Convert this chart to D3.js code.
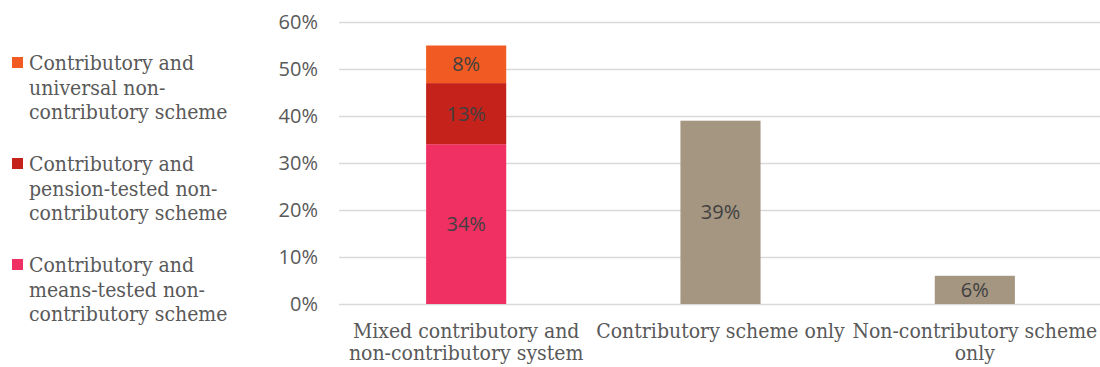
<!DOCTYPE html>
<html><head><meta charset="utf-8">
<script src="https://cdn.jsdelivr.net/npm/d3@7"></script>
<style>body{margin:0;background:#fff;}svg{display:block;}</style>
</head><body>
<svg id="chart" width="1100" height="367"></svg>
<script>
const categories = [["Mixed contributory and","non-contributory system"],["Contributory scheme only"],["Non-contributory scheme","only"]];
const seriesNames = [
  ["Contributory and","means-tested non-","contributory scheme"],
  ["Contributory and","pension-tested non-","contributory scheme"],
  ["Contributory and","universal non-","contributory scheme"]
];
const seriesColors = ["#F03063","#C5221C","#F15A22"];
const meansTested = [34, 0, 0];
const pensionTested = [13, 0, 0];
const universal = [8, 0, 0];
const singleScheme = [0, 39, 6];
const singleColor = "#A59682";
const yTicks = [0,10,20,30,40,50,60];

const svg = d3.select("#chart");
const y = d3.scaleLinear().domain([0,60]).range([304,22]);
const x = d3.scaleBand().domain(d3.range(categories.length)).range([339,1102]).paddingInner(0.685).paddingOuter(0.3425);

const slabFont = "'DejaVu Serif Condensed','DejaVu Serif',serif";
const sansFont = "'Open Sans','Noto Sans',sans-serif";

// gridlines
const yAxis = d3.axisLeft(y).tickValues(yTicks).tickFormat(d=>d+"%").tickSize(-(1102-339)).tickPadding(21);
const gy = svg.append("g").attr("transform","translate(339,0)").call(yAxis);
gy.select(".domain").remove();
gy.selectAll(".tick line").attr("stroke","#d9d9d9").attr("stroke-width",1.3);
gy.selectAll(".tick text").attr("fill","#595959").style("font-family",sansFont).style("font-size","20px");

// stacked
const stackData = categories.map((c,i)=>({i, a:meansTested[i], b:pensionTested[i], c:universal[i]}));
const stack = d3.stack().keys(["a","b","c"])(stackData);
stack.forEach((layer,k)=>{
  layer.forEach(d=>{
    if (d[1]-d[0] <= 0) return;
    svg.append("rect").attr("x",x(d.data.i)).attr("width",x.bandwidth())
      .attr("y",y(d[1])).attr("height",y(d[0])-y(d[1])).attr("fill",seriesColors[k]);
    svg.append("text").attr("x",x(d.data.i)+x.bandwidth()/2).attr("y",(y(d[0])+y(d[1]))/2)
      .attr("dy","0.35em").attr("text-anchor","middle").attr("fill","#404040")
      .style("font-family",sansFont).style("font-size","20px").text((d[1]-d[0])+"%");
  });
});
singleScheme.forEach((v,i)=>{
  if (v<=0) return;
  svg.append("rect").attr("x",x(i)).attr("width",x.bandwidth()).attr("y",y(v)).attr("height",y(0)-y(v)).attr("fill",singleColor);
  svg.append("text").attr("x",x(i)+x.bandwidth()/2).attr("y",(y(0)+y(v))/2)
    .attr("dy","0.35em").attr("text-anchor","middle").attr("fill","#404040")
    .style("font-family",sansFont).style("font-size","20px").text(v+"%");
});

// category labels
categories.forEach((lines,i)=>{
  const t = svg.append("text").attr("x",x(i)+x.bandwidth()/2).attr("y",338).attr("text-anchor","middle")
    .attr("fill","#595959").style("font-family",slabFont).style("font-size","21px");
  lines.forEach((l,j)=>t.append("tspan").attr("x",x(i)+x.bandwidth()/2).attr("dy",j?"22":"0").text(l));
});

// legend (top to bottom: universal, pension, means)
const legendOrder = [2,1,0];
legendOrder.forEach((k,gi)=>{
  const top = 70 + gi*101;
  svg.append("rect").attr("x",12).attr("y",top-13).attr("width",11).attr("height",11).attr("fill",seriesColors[k]);
  const t = svg.append("text").attr("x",29).attr("y",top).attr("fill","#595959")
    .style("font-family",slabFont).style("font-size","21px");
  seriesNames[k].forEach((l,j)=>t.append("tspan").attr("x",29).attr("dy",j?"24.5":"0").text(l));
});
</script>
</body></html>
